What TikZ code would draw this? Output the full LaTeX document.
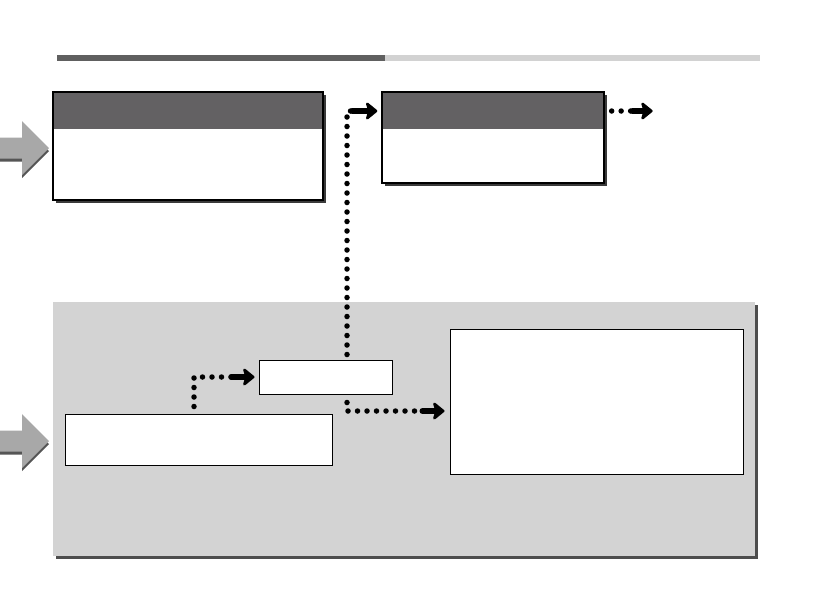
\documentclass[tikz,border=0pt]{standalone}
\usetikzlibrary{positioning,arrows.meta,calc,shadows}
\definecolor{hdrgray}{HTML}{636163}
\definecolor{boxshade}{HTML}{3A3A3A}
\definecolor{panelgray}{HTML}{D3D3D3}
\definecolor{panelshade}{HTML}{4D4D4D}
\definecolor{arrgray}{HTML}{A8A8A8}
\definecolor{arrshade}{HTML}{555555}
\definecolor{bardark}{HTML}{606060}
\definecolor{barlight}{HTML}{D2D2D2}

\begin{document}
\begin{tikzpicture}[x=1pt,y=-1pt,
  hbox/.style={draw,line width=1.3pt,fill=white,inner sep=0pt,
    drop shadow={shadow xshift=3pt,shadow yshift=-3pt,fill=boxshade,opacity=1},
    path picture={\fill[hdrgray] (path picture bounding box.north west) rectangle ([yshift=-37pt]path picture bounding box.north east);}},
  pbox/.style={draw,line width=1pt,fill=white,inner sep=0pt},
  panel/.style={fill=panelgray,inner sep=0pt,minimum width=702pt,minimum height=254pt,
    drop shadow={shadow xshift=3pt,shadow yshift=-3pt,fill=panelshade,opacity=1}},
  dots/.style={line width=5.5pt,line cap=round,dash pattern=on 0pt off 9.5pt},
  arr/.style={-{Stealth[length=13pt,width=21pt,inset=3pt,line join=round]},line width=6pt,line cap=round}]
  \useasboundingbox (0,0) rectangle (839,595);
  % title rule
  \fill[bardark] (57,55) rectangle (385,61);
  \fill[barlight] (385,55) rectangle (760,61);
  % big grey entry arrows
  \foreach \y in {148,441}{
    \fill[arrshade,yshift=-3pt] (0,\y-10.5) -- (22,\y-10.5) -- (22,\y-27) -- (49,\y) -- (22,\y+27) -- (22,\y+10.5) -- (0,\y+10.5) -- cycle;
    \fill[arrgray] (0,\y-10.5) -- (22,\y-10.5) -- (22,\y-27) -- (49,\y) -- (22,\y+27) -- (22,\y+10.5) -- (0,\y+10.5) -- cycle; }
  % boxes
  \node[hbox,minimum width=270pt,minimum height=108pt](stage) at (188,146){};
  \node[hbox,minimum width=222pt,minimum height=91pt](result) at (493,137.5){};
  \node[panel](panel) at (404,429){};
  \node[pbox,minimum width=133pt,minimum height=34pt](relay) at (325.5,377){};
  \node[pbox,minimum width=267pt,minimum height=51pt](source) at (198.5,439.5){};
  \node[pbox,minimum width=293pt,minimum height=145pt](store) at (596.5,401.5){};
  % dotted links, solid heads
  \coordinate(k1) at ($(relay.west)+(-27,0)$);
  \draw[dots,shorten <=7pt]([xshift=-4.5pt]source.north) |- (k1);
  \draw[arr,shorten >=4pt](k1) -- (relay.west);
  \coordinate(k2) at ($(store.west)+(-27,9.5)$);
  \draw[dots,shorten <=8pt]([xshift=21.5pt]relay.south) |- (k2);
  \draw[arr,shorten >=5pt](k2) -- (k2 -| store.west);
  \coordinate(k3) at ($(result.west)+(-29,-26.5)$);
  \draw[dots,shorten <=5pt]([xshift=21.5pt]relay.north) |- (k3);
  \draw[arr,shorten >=4pt](k3) -- (k3 -| result.west);
  \coordinate(k4) at ($(result.east)+(28,-26.5)$); \coordinate(k5) at ($(k4)+(20,0)$);
  \draw[dots,shorten <=7pt](result.east |- k4) -- (k4);
  \draw[arr](k4) -- (k5);
\end{tikzpicture}
\end{document}
